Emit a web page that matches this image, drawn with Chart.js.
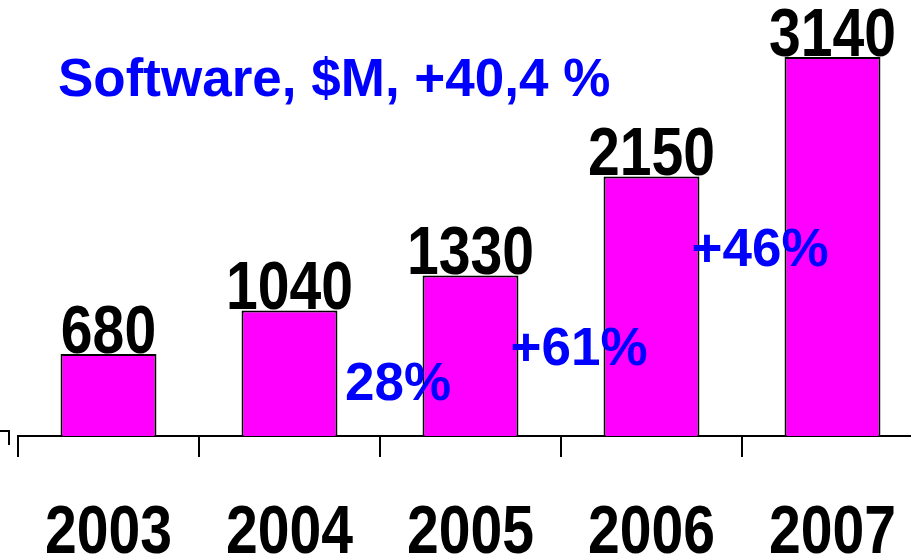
<!DOCTYPE html>
<html>
<head>
<meta charset="utf-8">
<script src="https://cdn.jsdelivr.net/npm/chart.js@4/dist/chart.umd.min.js"></script>
<style>
  html, body { margin: 0; padding: 0; background: #fff; overflow: hidden; }
</style>
</head>
<body>
<canvas id="softwareChart" width="923" height="555"></canvas>
<script>
const years = ['2003', '2004', '2005', '2006', '2007'];
const revenue = [680, 1040, 1330, 2150, 3140];
// year-on-year growth written to the right of each bar (none for the first and last)
const growth = [null, '28%', '+61%', '+46%', null];
const title = 'Software, $M, +40,4 %';

// the original uses a narrow bold face; no narrow font here, so squeeze Liberation Sans
const squeeze = 0.84;

function narrowText(ctx, text, x, y) {
    ctx.save();
    ctx.translate(x, y);
    ctx.scale(squeeze, 1);
    ctx.fillText(text, 0, 0);
    ctx.restore();
}

const annotate = {
    id: 'annotate',
    afterDatasetsDraw(chart) {
        const ctx = chart.ctx;
        const bars = chart.getDatasetMeta(0).data;
        const x = chart.scales.x;
        const half = (x.getPixelForValue(1) - x.getPixelForValue(0)) / 2;
        ctx.save();

        ctx.font = 'bold 68px "Liberation Sans", Arial, sans-serif';
        ctx.fillStyle = '#000';
        ctx.textAlign = 'center';
        ctx.textBaseline = 'alphabetic';
        // value over each bar
        bars.forEach((bar, i) => {
            narrowText(ctx, String(revenue[i]), bar.x, bar.y - 1);
        });
        // year under each category
        years.forEach((yr, i) => {
            narrowText(ctx, yr, x.getPixelForValue(i), 553);
        });

        // growth percentages between bars
        ctx.font = 'bold 53px "Liberation Sans", Arial, sans-serif';
        ctx.fillStyle = '#0000ff';
        growth.forEach((g, i) => {
            if (!g) return;
            ctx.fillText(g, x.getPixelForValue(i) + half + 18, bars[i].y + 90);
        });

        // headline
        ctx.textAlign = 'left';
        ctx.font = 'bold 53px "Liberation Sans", Arial, sans-serif';
        ctx.fillText(title, 58, 96);

        // stub of the value axis at the far left
        ctx.strokeStyle = '#000';
        ctx.lineWidth = 2;
        ctx.beginPath();
        ctx.moveTo(0, 431);
        ctx.lineTo(9, 431);
        ctx.lineTo(9, 445);
        ctx.stroke();
        ctx.restore();
    }
};

new Chart(document.getElementById('softwareChart'), {
    type: 'bar',
    data: {
        labels: years,
        datasets: [{
            data: revenue,
            backgroundColor: '#ff00ff',
            borderColor: '#000',
            borderWidth: 2,
            barPercentage: 0.53,
            categoryPercentage: 1
        }]
    },
    options: {
        responsive: false,
        animation: false,
        layout: { padding: { left: 18, right: 0, top: 0, bottom: 0 } },
        plugins: {
            legend: { display: false },
            tooltip: { enabled: false }
        },
        scales: {
            x: {
                afterFit(scale) {
                    scale.height = 119;
                    scale.paddingLeft = 0;
                    scale.paddingRight = 0;
                },
                border: { display: true, color: '#000', width: 2 },
                grid: {
                    offset: true,
                    drawOnChartArea: false,
                    drawTicks: true,
                    tickLength: 21,
                    color: '#000',
                    lineWidth: 2
                },
                ticks: { display: false }
            },
            y: {
                display: false,
                min: 0,
                max: 3612
            }
        }
    },
    plugins: [annotate]
});
</script>
</body>
</html>
